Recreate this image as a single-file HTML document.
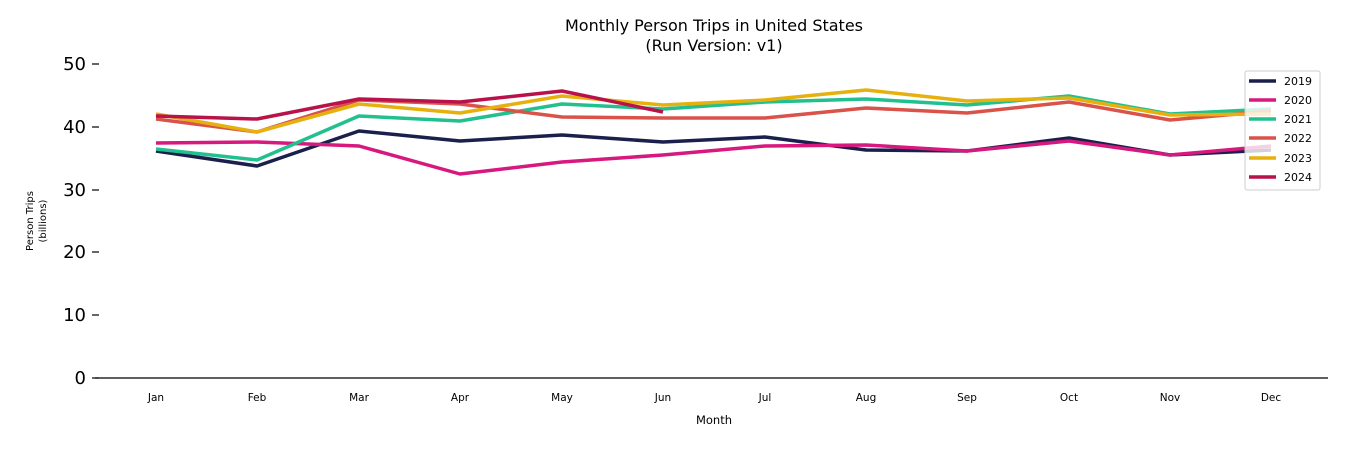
<!DOCTYPE html>
<html><head><style>body{margin:0;background:#fff}svg{display:block}text{font-family:"DejaVu Sans","Liberation Sans",sans-serif;fill:#000}</style></head>
<body>
<svg width="1350" height="450" viewBox="0 0 1350 450" xmlns="http://www.w3.org/2000/svg">
<text x="714" y="31" font-size="16" text-anchor="middle">Monthly Person Trips in United States</text>
<text x="714" y="51" font-size="16" text-anchor="middle">(Run Version: v1)</text>
<g font-size="18" text-anchor="end">
<text x="86" y="384">0</text><text x="86" y="321">10</text><text x="86" y="258">20</text><text x="86" y="196">30</text><text x="86" y="133">40</text><text x="86" y="70">50</text>
</g>
<g stroke="#000" stroke-width="1.2">
<line x1="92" y1="378" x2="99" y2="378"/><line x1="92" y1="315" x2="99" y2="315"/><line x1="92" y1="252" x2="99" y2="252"/><line x1="92" y1="190" x2="99" y2="190"/><line x1="92" y1="127" x2="99" y2="127"/><line x1="92" y1="64" x2="99" y2="64"/>
<line x1="95" y1="378" x2="1328" y2="378"/>
</g>
<text transform="translate(33,221) rotate(-90)" font-size="10" text-anchor="middle">Person Trips</text>
<text transform="translate(46,221) rotate(-90)" font-size="10" text-anchor="middle">(billions)</text>
<g font-size="10.5" text-anchor="middle">
<text x="156" y="401">Jan</text><text x="257" y="401">Feb</text><text x="359" y="401">Mar</text><text x="460" y="401">Apr</text><text x="562" y="401">May</text><text x="663" y="401">Jun</text><text x="765" y="401">Jul</text><text x="866" y="401">Aug</text><text x="967" y="401">Sep</text><text x="1069" y="401">Oct</text><text x="1170" y="401">Nov</text><text x="1271" y="401">Dec</text>
</g>
<text x="714" y="424" font-size="11.5" text-anchor="middle">Month</text>
<g fill="none" stroke-width="3.5" stroke-linejoin="round">
<polyline stroke="#1b1f4b" points="156,151 257,166 359,131 460,141 562,135 663,142 765,137 866,150 967,151 1069,138 1170,155 1271,150"/>
<polyline stroke="#d6187f" points="156,143 257,142 359,146 460,174 562,162 663,155 765,146 866,145 967,151 1069,141 1170,155 1271,146"/>
<polyline stroke="#22c08e" points="156,149 257,160 359,116 460,121 562,104 663,109 765,102 866,99 967,105 1069,96 1170,114 1271,109"/>
<polyline stroke="#d9534a" points="156,119 257,132 359,100 460,104 562,117 663,118 765,118 866,108 967,113 1069,102 1170,120 1271,111"/>
<polyline stroke="#e6b10e" points="156,114 257,132 359,104 460,113 562,96 663,105 765,100 866,90 967,101 1069,98 1170,115 1271,114"/>
<polyline stroke="#b9124a" points="156,116 257,119 359,99 460,102 562,91 663,112"/>
</g>
<rect x="1245" y="71" width="75" height="119" rx="2" fill="#fff" fill-opacity="0.8" stroke="#ccc"/>
<g stroke-width="3.5">
<line x1="1249" y1="81" x2="1276" y2="81" stroke="#1b1f4b"/>
<line x1="1249" y1="100" x2="1276" y2="100" stroke="#d6187f"/>
<line x1="1249" y1="119" x2="1276" y2="119" stroke="#22c08e"/>
<line x1="1249" y1="138" x2="1276" y2="138" stroke="#d9534a"/>
<line x1="1249" y1="158" x2="1276" y2="158" stroke="#e6b10e"/>
<line x1="1249" y1="177" x2="1276" y2="177" stroke="#b9124a"/>
</g>
<g font-size="11">
<text x="1284" y="85">2019</text><text x="1284" y="104">2020</text><text x="1284" y="123">2021</text><text x="1284" y="142">2022</text><text x="1284" y="162">2023</text><text x="1284" y="181">2024</text>
</g>
</svg>
</body></html>
